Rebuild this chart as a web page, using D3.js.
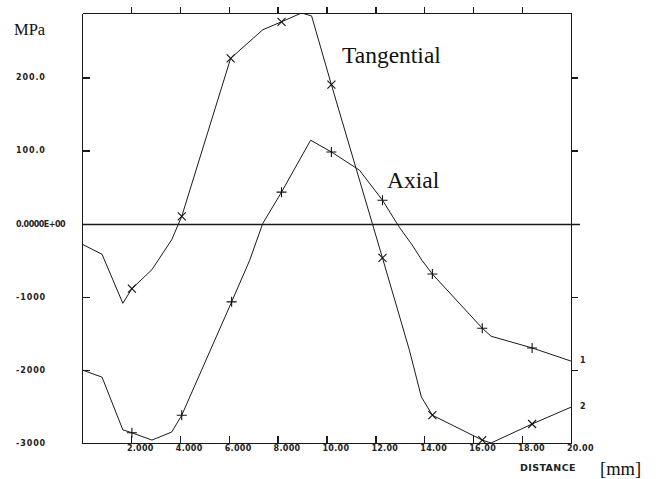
<!DOCTYPE html>
<html>
<head>
<meta charset="utf-8">
<script src="https://cdn.jsdelivr.net/npm/d3@7/dist/d3.min.js"></script>
<style>
    body { margin: 0; background: #fff; }
    svg { display: block; }
    .axis path, .axis line { stroke: #1a1a1a; stroke-width: 1.3; fill: none; shape-rendering: crispEdges; }
    .curve { fill: none; stroke: #1a1a1a; stroke-width: 1; }
    .mark { fill: none; stroke: #111; stroke-width: 1.1; }
    .tick-label { font-family: 'DejaVu Sans', sans-serif; font-size: 8px; font-weight: bold; fill: #222; }
    .serif-label { font-family: 'Liberation Serif', 'Times New Roman', serif; fill: #111; }
</style>
</head>
<body>
<svg></svg>
<script>
'use strict';

// 切向应力 [x(mm), MPa, 是否有标记]
var tangential = [
    [0, -28, 0], [0.82, -42, 0], [1.67, -109, 0], [2.04, -89, 1], [2.86, -63, 0], [3.67, -22, 0],
    [4.08, 10, 1], [6.08, 226, 1], [7.39, 265, 0], [8.16, 276, 1], [8.98, 288, 0], [9.39, 284, 0],
    [10.2, 190, 1], [12.29, -47, 1], [13.39, -173, 0], [13.88, -237, 0], [14.33, -262, 1],
    [16.37, -296, 1], [16.73, -300, 0], [18.41, -274, 1], [20, -251, 0]
];

// 轴向应力
var axial = [
    [0, -200, 0], [0.82, -210, 0], [1.67, -282, 0], [2.04, -286, 1], [2.86, -296, 0], [3.67, -285, 0],
    [4.08, -262, 1], [6.12, -107, 1], [6.86, -50, 0], [7.39, 0, 0], [8.16, 43, 1], [9.35, 114, 0],
    [10.2, 98, 1], [11.35, 73, 0], [12.29, 32, 1], [12.98, -5, 0], [13.5, -29, 0], [13.9, -50, 0],
    [14.33, -69, 1], [16.37, -143, 1], [16.73, -154, 0], [18.41, -170, 1], [20, -188, 0]
];

var xTicks = [2, 4, 6, 8, 10, 12, 14, 16, 18, 20];
var xTickLabels = ['2.000', '4.000', '6.000', '8.000', '10.00', '12.00', '14.00', '16.00', '18.00', '20.00'];
var yTicks = [200, 100, 0, -100, -200, -300];
var yTickLabels = ['200.0', '100.0', '0.0000E+00', '-1000', '-2000', '-3000'];

var width = 656;
var height = 479;

// 绘图区
var plotLeft = 82, plotRight = 571, plotTop = 13, plotBottom = 443;

var svg = d3.select('svg')
    .attr('width', width)
    .attr('height', height);

var x = d3.scaleLinear().domain([0, 20]).range([plotLeft, plotRight]);
var y = d3.scaleLinear().domain([-300, 288]).range([plotBottom, plotTop]);

// 四条边框和刻度
svg.append('g').attr('class', 'axis')
    .attr('transform', 'translate(0,' + plotBottom + ')')
    .call(d3.axisBottom(x).tickValues(xTicks).tickSizeInner(-7).tickSizeOuter(0).tickFormat(''));

svg.append('g').attr('class', 'axis')
    .attr('transform', 'translate(0,' + plotTop + ')')
    .call(d3.axisTop(x).tickValues(xTicks.slice(0, -1)).tickSizeInner(6).tickSizeOuter(0).tickFormat(''));

svg.append('g').attr('class', 'axis')
    .attr('transform', 'translate(' + plotLeft + ',0)')
    .call(d3.axisLeft(y).tickValues([200, 100, -100, -200]).tickSizeInner(-8).tickSizeOuter(0).tickFormat(''));

svg.append('g').attr('class', 'axis')
    .attr('transform', 'translate(' + plotRight + ',0)')
    .call(d3.axisRight(y).tickValues([200, 100, -100, -200]).tickSizeInner(7).tickSizeOuter(0).tickFormat(''));

// 零线
svg.append('line')
    .attr('x1', x(0)).attr('y1', Math.round(y(0)) + 0.5)
    .attr('x2', x(20) + 9).attr('y2', Math.round(y(0)) + 0.5)
    .style('stroke', '#1a1a1a').style('stroke-width', 1.3);

// 横轴刻度文字
svg.append('g')
    .selectAll('text')
    .data(xTicks)
    .enter()
        .append('text')
        .attr('class', 'tick-label')
        .attr('x', function (d) { return x(d) - 4; })
        .attr('y', 451)
        .style('letter-spacing', '0.3px')
        .text(function (d, i) { return xTickLabels[i]; });

// 纵轴刻度文字
svg.append('g')
    .selectAll('text')
    .data(yTicks)
    .enter()
        .append('text')
        .attr('class', 'tick-label')
        .attr('x', 16)
        .attr('y', function (d) { return y(d) + 3; })
        .style('letter-spacing', function (d, i) { return yTickLabels[i].length > 5 ? '-0.5px' : '0.9px'; })
        .text(function (d, i) { return yTickLabels[i]; });

// 曲线
svg.append('clipPath').attr('id', 'plot-clip')
    .append('rect')
    .attr('x', plotLeft).attr('y', plotTop)
    .attr('width', plotRight - plotLeft).attr('height', plotBottom - plotTop);

var line = d3.line()
    .x(function (d) { return x(d[0]); })
    .y(function (d) { return y(d[1]); });

var curves = svg.append('g').attr('clip-path', 'url(#plot-clip)');
curves.append('path').attr('class', 'curve').attr('d', line(tangential));
curves.append('path').attr('class', 'curve').attr('d', line(axial));

// 标记: 切向用 ×, 轴向用 +
svg.append('g')
    .selectAll('path')
    .data(tangential.filter(function (d) { return d[2]; }))
    .enter()
        .append('path')
        .attr('class', 'mark')
        .attr('d', function (d) {
            var cx = x(d[0]), cy = y(d[1]), s = 4;
            return 'M' + (cx - s) + ',' + (cy - s) + 'L' + (cx + s) + ',' + (cy + s) +
                'M' + (cx - s) + ',' + (cy + s) + 'L' + (cx + s) + ',' + (cy - s);
        });

svg.append('g')
    .selectAll('path')
    .data(axial.filter(function (d) { return d[2]; }))
    .enter()
        .append('path')
        .attr('class', 'mark')
        .attr('d', function (d) {
            var cx = x(d[0]), cy = y(d[1]), s = 5;
            return 'M' + (cx - s) + ',' + cy + 'L' + (cx + s) + ',' + cy +
                'M' + cx + ',' + (cy - s) + 'L' + cx + ',' + (cy + s);
        });

// 曲线编号
svg.append('text').attr('class', 'tick-label')
    .attr('x', x(20) + 9).attr('y', y(axial[axial.length - 1][1]) + 2).text('1');
svg.append('text').attr('class', 'tick-label')
    .attr('x', x(20) + 9).attr('y', y(tangential[tangential.length - 1][1]) + 2).text('2');

// 大字
svg.append('text').attr('class', 'serif-label').style('font-size', '16.5px')
    .attr('x', 14).attr('y', 35).text('MPa');
svg.append('text').attr('class', 'serif-label').style('font-size', '23.5px')
    .attr('x', 342).attr('y', 63).text('Tangential');
svg.append('text').attr('class', 'serif-label').style('font-size', '23.5px')
    .attr('x', 387).attr('y', 188).text('Axial');
svg.append('text').attr('class', 'tick-label').style('font-size', '9.5px').style('letter-spacing', '0.4px')
    .attr('x', 520).attr('y', 471).text('DISTANCE');
svg.append('text').attr('class', 'serif-label').style('font-size', '18.5px')
    .attr('x', 600).attr('y', 475).text('[mm]');
</script>
</body>
</html>
